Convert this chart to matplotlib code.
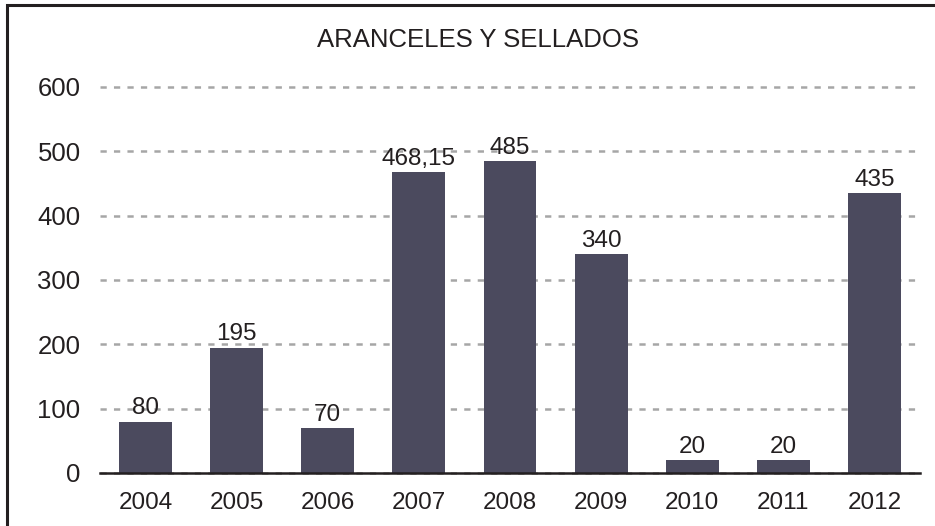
import matplotlib
matplotlib.use("Agg")
import matplotlib.pyplot as plt
from matplotlib.patches import Rectangle

years = ["2004", "2005", "2006", "2007", "2008", "2009", "2010", "2011", "2012"]
values = [80, 195, 70, 468.15, 485, 340, 20, 20, 435]
labels = ["80", "195", "70", "468,15", "485", "340", "20", "20", "435"]
title = "ARANCELES Y SELLADOS"

plt.rcParams["font.family"] = ["Liberation Sans", "DejaVu Sans"]
plt.rcParams["lines.scale_dashes"] = False

W, H = 935, 526
fig = plt.figure(figsize=(W / 100, H / 100), dpi=100)
ax = fig.add_axes([100 / W, 1 - 473 / H, 820 / W, (473 - 87) / H])

x = list(range(len(years)))
bars = ax.bar(x, values, width=0.58, color="#4b4a5e", zorder=3)
ax.set_xlim(-0.5, len(years) - 0.5)
ax.set_ylim(0, 600)
ax.set_yticks([0, 100, 200, 300, 400, 500, 600])
ax.set_xticks(x)
ax.set_xticklabels(years)

ax.yaxis.grid(True, color="#a6a6a6", linewidth=1.8, linestyle=(0, (4.5, 5.2)), zorder=0)
ax.set_axisbelow(True)
for gl in ax.yaxis.get_gridlines():
    gl.set_clip_on(False)

for s in ["top", "right", "left"]:
    ax.spines[s].set_visible(False)
ax.spines["bottom"].set_color("#231f20")
ax.spines["bottom"].set_linewidth(1.8)
ax.spines["bottom"].set_zorder(4)

ax.tick_params(axis="both", length=0, colors="#231f20")
ax.tick_params(axis="y", pad=14, labelsize=18.5)
ax.tick_params(axis="x", pad=14, labelsize=17.5)

for xi, v, lab in zip(x, values, labels):
    ax.annotate(lab, (xi, v), xytext=(0, 1.5), textcoords="offset points",
                ha="center", va="bottom", fontsize=17.5, color="#231f20", zorder=5)

fig.text(478 / W, 1 - 47 / H, title, ha="center", va="baseline", fontsize=18.5, color="#231f20")

# outer frame (left and top edges visible)
fig.patches.append(Rectangle((7 / W, -0.05), 1.2, 1 - 5 / H + 0.05, transform=fig.transFigure,
                             fill=False, edgecolor="#231f20", linewidth=2.2))

fig.savefig("out.png", dpi=100)
